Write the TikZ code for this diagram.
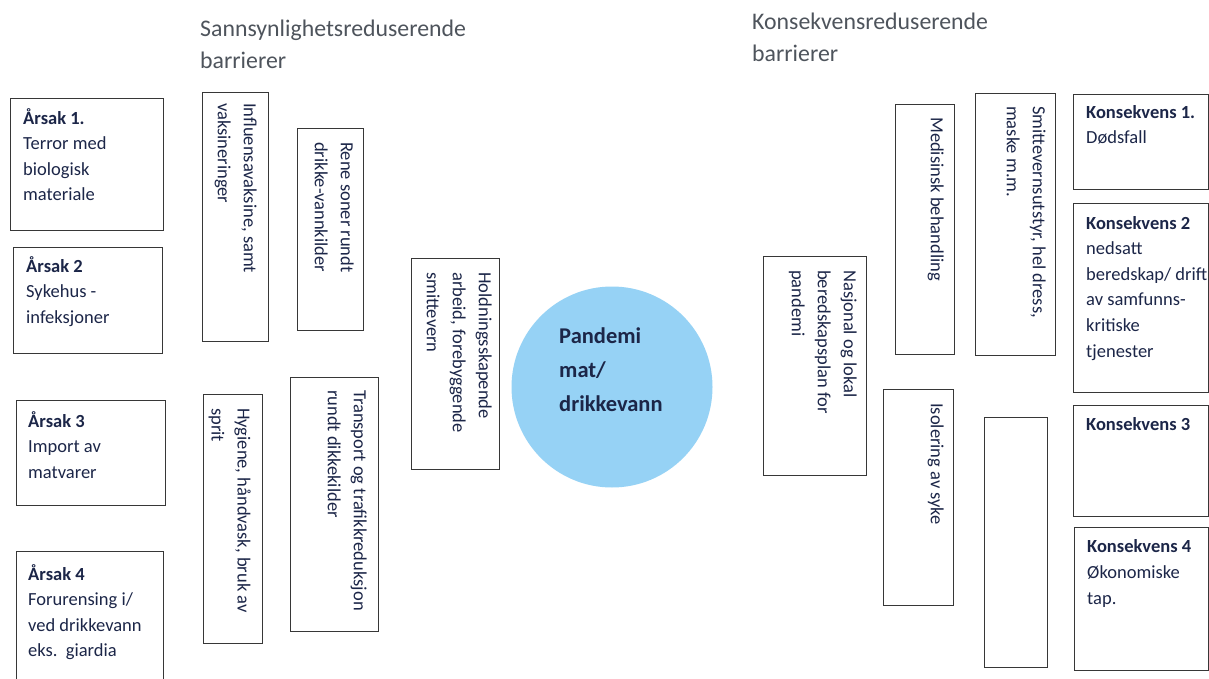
\documentclass[tikz,border=0pt]{standalone}
\usepackage{fontspec}
\setmainfont{Carlito}
\definecolor{navy}{RGB}{28,38,72}
\definecolor{headgrey}{RGB}{78,84,92}
\definecolor{boxline}{RGB}{55,55,55}
\definecolor{bubble}{RGB}{150,210,245}
\begin{document}
\begin{tikzpicture}[x=1pt,y=-1pt,
  box/.style={draw=boxline,line width=1.4pt,inner sep=0pt,anchor=north west,fill=white},
  txt/.style={anchor=north west,inner sep=0pt,align=left,text=navy,font=\fontsize{18.5}{25.6}\selectfont},
  vtxt/.style={anchor=north west,inner sep=0pt,align=left,rotate=-90,text=navy,font=\fontsize{18.5}{26}\selectfont},
  head/.style={anchor=north west,inner sep=0pt,align=left,text=headgrey,font=\fontsize{23.8}{32}\selectfont}]
\useasboundingbox (0,0) rectangle (1209,679);
\fill[white] (0,0) rectangle (1209,679);

% headings
\node[head] (h1) at (200,20) {Sannsynlighetsreduserende\\barrierer};
\node[head] (h2) at (752,12.5) {Konsekvensreduserende\\barrierer};

% causes
\node[box,minimum width=153pt,minimum height=132pt] (a1) at (10,98) {};
\node[box,minimum width=149pt,minimum height=106pt] (a2) at (13,247) {};
\node[box,minimum width=149pt,minimum height=105pt] (a3) at (16,400) {};
\node[box,minimum width=147pt,minimum height=140pt] (a4) at (16,551) {};
\node[txt] (ta1) at (23,108) {\textbf{Årsak 1.}\\Terror med\\biologisk\\materiale};
\node[txt] (ta2) at (26,256) {\textbf{Årsak 2}\\Sykehus -\\infeksjoner};
\node[txt] (ta3) at (28,411) {\textbf{Årsak 3}\\Import av\\matvarer};
\node[txt] (ta4) at (28,564) {\textbf{Årsak 4}\\Forurensing i/\\ved drikkevann\\eks.~~giardia};

% probability reducing barriers
\node[box,minimum width=66pt,minimum height=249pt] (b1) at (202,92) {};
\node[box,minimum width=66pt,minimum height=202pt] (b2) at (297,128) {};
\node[box,minimum width=59pt,minimum height=249pt] (b3) at (203,394) {};
\node[box,minimum width=88pt,minimum height=254pt] (b4) at (290,377) {};
\node[box,minimum width=88pt,minimum height=211pt] (b5) at (411,258) {};
\node[vtxt] (tb1) at (257,103) {Influensavaksine, samt\\vaksineringer};
\node[vtxt] (tb2) at (354,142) {Rene soner rundt\\drikke-vannkilder};
\node[vtxt] (tb3) at (251,408) {Hygiene, håndvask, bruk av\\sprit};
\node[vtxt] (tb4) at (367,390) {Transport og trafikkreduksjon\\rundt dikkekilder};
\node[vtxt] (tb5) at (492,272) {Holdningsskapende\\arbeid, forebyggende\\smittevern};

% central event
\node[circle,fill=bubble,minimum size=201pt,inner sep=0pt] (top) at (612,387) {};
\node[anchor=north west,inner sep=0pt,align=left,text=navy,font=\fontsize{22.5}{34}\selectfont\bfseries] (ttop) at (559,328) {Pandemi\\mat/\\drikkevann};

% consequence reducing barriers
\node[box,minimum width=103pt,minimum height=219pt] (c1) at (763,256) {};
\node[box,minimum width=59pt,minimum height=250pt] (c2) at (895,104) {};
\node[box,minimum width=80pt,minimum height=262pt] (c3) at (975,93) {};
\node[box,minimum width=70pt,minimum height=216pt] (c4) at (883,389) {};
\node[box,minimum width=63pt,minimum height=250pt] (c5) at (984,417) {};
\node[vtxt] (tc1) at (857,270) {Nasjonal og lokal\\beredskapsplan for\\pandemi};
\node[vtxt] (tc2) at (944,117) {Medisinsk behandling};
\node[vtxt] (tc3) at (1046,106) {Smittevernsutstyr, hel dress,\\maske m.m.};
\node[vtxt] (tc4) at (944,403) {Isolering av syke};

% consequences
\node[box,minimum width=135pt,minimum height=95pt] (k1) at (1073,94) {};
\node[box,minimum width=135pt,minimum height=189pt] (k2) at (1073,203) {};
\node[box,minimum width=135pt,minimum height=111pt] (k3) at (1073,405) {};
\node[box,minimum width=134pt,minimum height=143pt] (k4) at (1074,527) {};
\node[txt] (tk1) at (1086,105) {\textbf{Konsekvens 1.}\\Dødsfall};
\node[txt] (tk2) at (1086,216) {\textbf{Konsekvens 2}\\nedsatt\\beredskap/ drift\\av samfunns-\\kritiske\\tjenester};
\node[txt] (tk3) at (1086,417) {\textbf{Konsekvens 3}};
\node[txt,font=\fontsize{18.5}{26}\selectfont] (tk4) at (1087,539) {\textbf{Konsekvens 4}\\Økonomiske\\tap.};
\end{tikzpicture}
\end{document}
